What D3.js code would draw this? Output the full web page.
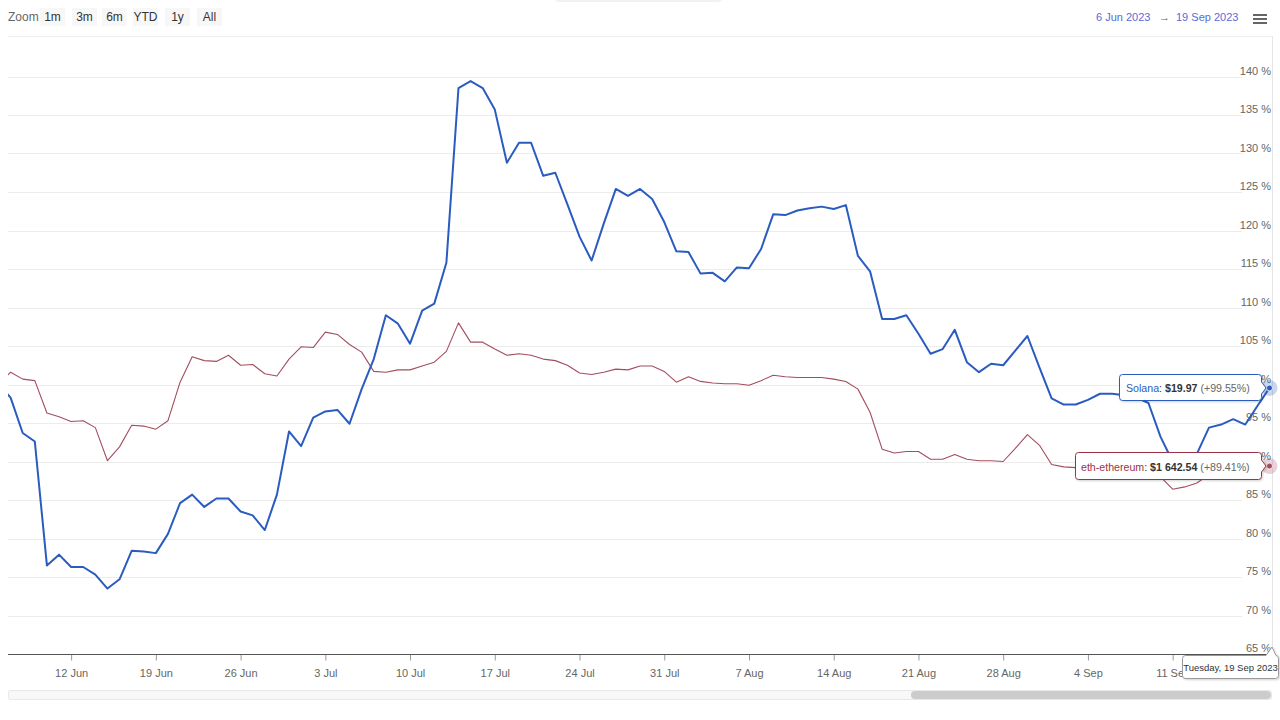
<!DOCTYPE html>
<html><head><meta charset="utf-8">
<script src="https://cdn.jsdelivr.net/npm/d3@7/dist/d3.min.js"></script>
<style>
html,body{margin:0;padding:0;background:#fff;}
svg{display:block;font-family:"Liberation Sans",Arial,sans-serif;}
</style></head>
<body>
<svg id="chart" width="1280" height="720"></svg>
<script>
// ---- data ----
const startDate = Date.UTC(2023, 5, 6);
const endDate = Date.UTC(2023, 8, 19);
const zoomButtons = ["1m", "3m", "6m", "YTD", "1y", "All"];
const yTicks = [65, 70, 75, 80, 85, 90, 95, 100, 105, 110, 115, 120, 125, 130, 135, 140];
const solana = [100.0, 98.3, 93.7, 92.6, 76.5, 77.9, 76.3, 76.3, 75.3, 73.5,
  74.7, 78.4, 78.3, 78.1, 80.6, 84.6, 85.7, 84.1, 85.2, 85.2,
  83.5, 83.0, 81.1, 85.7, 93.9, 92.0, 95.7, 96.5, 96.7, 94.9,
  99.4, 103.3, 109.0, 107.9, 105.3, 109.6, 110.5, 115.8, 138.5, 139.4,
  138.5, 135.7, 128.8, 131.4, 131.4, 127.1, 127.5, 123.4, 119.2, 116.1,
  120.9, 125.4, 124.5, 125.4, 124.1, 121.1, 117.3, 117.2, 114.4, 114.5,
  113.4, 115.2, 115.1, 117.6, 122.1, 122.0, 122.6, 122.9, 123.1, 122.8,
  123.3, 116.7, 114.7, 108.5, 108.5, 109.0, 106.6, 104.0, 104.6, 107.1,
  102.9, 101.6, 102.7, 102.5, 104.4, 106.3, 102.2, 98.2, 97.4, 97.4,
  98.0, 98.8, 98.8, 98.6, 98.3, 97.6, 93.2, 90.0, 89.6, 91.0,
  94.4, 94.8, 95.5, 94.8, 97.2, 99.55];
const ethereum = [100.0, 101.6, 100.7, 100.5, 96.3, 95.8, 95.2, 95.3, 94.4, 90.1,
  91.9, 94.7, 94.6, 94.2, 95.3, 100.3, 103.6, 103.1, 103.0, 103.8,
  102.5, 102.6, 101.4, 101.1, 103.3, 104.9, 104.8, 106.8, 106.5, 105.2,
  104.2, 101.7, 101.6, 101.9, 101.9, 102.4, 102.9, 104.3, 108.0, 105.5,
  105.5, 104.6, 103.8, 104.0, 103.8, 103.3, 103.1, 102.5, 101.5, 101.3,
  101.6, 102.0, 101.9, 102.4, 102.4, 101.7, 100.3, 101.0, 100.4, 100.2,
  100.1, 100.1, 99.9, 100.5, 101.2, 101.0, 100.9, 100.9, 100.9, 100.7,
  100.4, 99.4, 96.4, 91.6, 91.1, 91.3, 91.3, 90.3, 90.3, 90.9,
  90.3, 90.1, 90.1, 90.0, 91.7, 93.5, 92.1, 89.6, 89.3, 89.2,
  89.2, 89.0, 89.2, 89.1, 88.9, 88.7, 88.0, 86.4, 86.7, 87.2,
  88.3, 88.9, 89.2, 89.2, 89.3, 89.41];
const dates = d3.utcDay.range(startDate, endDate + 86400000);

// ---- chart ----
const svg = d3.select("#chart");
const colSol = "#2a5cc0", colEth = "#a34d5e";

const x = d3.scaleUtc().domain([startDate, endDate]).range([-1.5, 1269.5]);
const y = d3.scaleLinear().domain([65, 140]).range([654, 76.5]);

const defs = svg.append("defs");
defs.append("clipPath").attr("id", "clip").append("rect")
  .attr("x", 8).attr("y", 36).attr("width", 1264).attr("height", 620);
const f = defs.append("filter").attr("id", "shadow").attr("x", "-10%").attr("y", "-30%").attr("width", "130%").attr("height", "180%");
f.append("feDropShadow").attr("dx", 1).attr("dy", 1).attr("stdDeviation", 1.2).attr("flood-color", "#000").attr("flood-opacity", 0.18);

// top decorations
svg.append("rect").attr("x", 555).attr("y", -4).attr("width", 167).attr("height", 6).attr("rx", 3).attr("fill", "#f2f2f2");
svg.append("text").attr("x", 8).attr("y", 21).attr("font-size", 12).attr("fill", "#666").text("Zoom");
const btnX = [40, 72, 102, 133, 165, 197];
zoomButtons.forEach((b, i) => {
  svg.append("rect").attr("x", btnX[i]).attr("y", 8).attr("width", 25).attr("height", 18).attr("fill", "#f7f7f7");
  svg.append("text").attr("x", btnX[i] + 12.5).attr("y", 21).attr("text-anchor", "middle")
    .attr("font-size", 12).attr("fill", "#333").text(b);
});
const fmtRange = d3.utcFormat("%-d %b %Y");
svg.append("text").attr("x", 1096).attr("y", 21).attr("font-size", 11).attr("fill", "#5a6ad8").text(fmtRange(new Date(startDate)));
svg.append("text").attr("x", 1159).attr("y", 21).attr("font-size", 11).attr("fill", "#666").text("→");
svg.append("text").attr("x", 1176).attr("y", 21).attr("font-size", 11).attr("fill", "#5a6ad8").text(fmtRange(new Date(endDate)));
[15, 19, 23].forEach(yy => svg.append("rect").attr("x", 1253).attr("y", yy - 1).attr("width", 14).attr("height", 2).attr("fill", "#666"));

svg.append("line").attr("x1", 8).attr("x2", 1272).attr("y1", 36.5).attr("y2", 36.5).attr("stroke", "#eeeeee");
svg.append("line").attr("x1", 1272.5).attr("x2", 1272.5).attr("y1", 36).attr("y2", 654).attr("stroke", "#e6e6e6");

// grid + y labels
const grid = svg.append("g");
yTicks.forEach(v => {
  if (v !== 65) grid.append("line").attr("x1", 8).attr("x2", 1242)
    .attr("y1", Math.round(y(v)) + 0.5).attr("y2", Math.round(y(v)) + 0.5).attr("stroke", "#ececec");
});
const yLab = svg.append("g");
yTicks.forEach(v => {
  yLab.append("text").attr("x", 1271).attr("y", y(v) - 2).attr("text-anchor", "end")
    .attr("font-size", 11).attr("fill", "#666").text(v + " %");
});

// x axis
const xTicks = d3.utcMonday.range(Date.UTC(2023, 5, 12), Date.UTC(2023, 8, 12));
const xAxis = d3.axisBottom(x).tickValues(xTicks).tickFormat(d3.utcFormat("%-d %b")).tickSize(6).tickSizeOuter(0);
const gx = svg.append("g").attr("transform", "translate(0,654.5)").call(xAxis);
gx.select(".domain").remove();
gx.selectAll(".tick line").attr("stroke", "#999");
gx.selectAll(".tick text").attr("fill", "#666").attr("font-size", 11).attr("dy", "1.25em")
  .attr("font-family", "'Liberation Sans',Arial,sans-serif");
svg.append("line").attr("x1", 8).attr("x2", 1272).attr("y1", 654.5).attr("y2", 654.5).attr("stroke", "#555");

// series
const line = d3.line().x((d, i) => x(dates[i])).y(d => y(d));
const plot = svg.append("g").attr("clip-path", "url(#clip)");
plot.append("path").datum(ethereum).attr("d", line).attr("fill", "none").attr("stroke", colEth).attr("stroke-width", 1.1).attr("stroke-linejoin", "round");
plot.append("path").datum(solana).attr("d", line).attr("fill", "none").attr("stroke", colSol).attr("stroke-width", 2).attr("stroke-linejoin", "round");

// scrollbar
svg.append("rect").attr("x", 8.5).attr("y", 690.5).attr("width", 1263).attr("height", 9).attr("rx", 2).attr("fill", "#f8f8f8").attr("stroke", "#e8e8e8");
svg.append("rect").attr("x", 911).attr("y", 691).attr("width", 360).attr("height", 8).attr("rx", 4).attr("fill", "#cccccc");

// hover markers
const last = dates.length - 1;
const lx = x(dates[last]);
[[solana, colSol], [ethereum, colEth]].forEach(([s, c]) => {
  svg.append("circle").attr("cx", lx).attr("cy", y(s[last])).attr("r", 8).attr("fill", c).attr("opacity", 0.25);
  svg.append("circle").attr("cx", lx).attr("cy", y(s[last])).attr("r", 3).attr("fill", c).attr("stroke", "#fff").attr("stroke-width", 0.8);
});

// tooltips
function callout(x0, y0, x1, y1, tipX, tipY, stroke) {
  const r = 3, h = 6;
  const p = `M${x0 + r},${y0} H${x1 - r} Q${x1},${y0} ${x1},${y0 + r} V${tipY - h} L${tipX},${tipY} L${x1},${tipY + h} V${y1 - r} Q${x1},${y1} ${x1 - r},${y1} H${x0 + r} Q${x0},${y1} ${x0},${y1 - r} V${y0 + r} Q${x0},${y0} ${x0 + r},${y0} Z`;
  svg.append("path").attr("d", p).attr("fill", "#fff").attr("stroke", stroke).attr("stroke-width", 1).attr("filter", "url(#shadow)");
}
function tipText(tx, ty, targetW, name, price, pct, col) {
  const t = svg.append("text").attr("x", tx).attr("y", ty).attr("font-size", 12).attr("fill", "#333");
  t.append("tspan").attr("fill", col).text(name);
  t.append("tspan").text(": ");
  t.append("tspan").attr("font-weight", "bold").text(price);
  t.append("tspan").attr("fill", "#666").text(" (+" + pct + "%)");
  const w = t.node().getComputedTextLength();
  if (w > 0) t.attr("font-size", Math.min(13, 12 * targetW / w));
}
const ySol = y(solana[last]), yEth = y(ethereum[last]);
callout(1119.5, 374.5, 1261.5, 400.5, 1266, ySol, colSol);
tipText(1126, 392, 124, "Solana", "$19.97", solana[last].toFixed(2), colSol);
callout(1075.5, 452.5, 1261.5, 479.5, 1266, yEth, "#9c3346");
tipText(1081, 470.5, 169, "eth-ethereum", "$1 642.54", ethereum[last].toFixed(2), "#9c3346");

// date tooltip
svg.append("path").attr("d", "M1185.5,655.5 H1266 L1272,647 L1276,655.5 Q1278.5,655.5 1278.5,658.5 V675.5 Q1278.5,678.5 1275.5,678.5 H1185.5 Q1182.5,678.5 1182.5,675.5 V658.5 Q1182.5,655.5 1185.5,655.5 Z")
  .attr("fill", "#fff").attr("stroke", "#999").attr("filter", "url(#shadow)");
svg.append("text").attr("x", 1230.5).attr("y", 670.5).attr("text-anchor", "middle").attr("font-size", 9.5).attr("fill", "#333")
  .text(d3.utcFormat("%A, %-d %b %Y")(dates[last]));
</script>
</body></html>
